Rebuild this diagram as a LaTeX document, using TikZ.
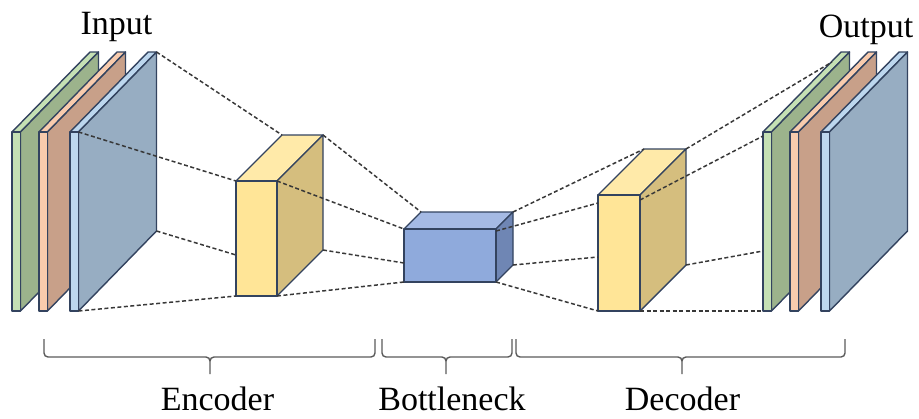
\documentclass[tikz,border=0pt]{standalone}
\usepackage{fontspec}
\setmainfont{Liberation Serif}

% Face colours: <prefix>F front, <prefix>T top, <prefix>S side
\definecolor{edge}{HTML}{33435F}
\definecolor{gF}{HTML}{C5E0B4}\definecolor{gT}{HTML}{C5E0B4}\definecolor{gS}{HTML}{9CB38C}
\definecolor{oF}{HTML}{F8CBAD}\definecolor{oT}{HTML}{F8CBAD}\definecolor{oS}{HTML}{C8A089}
\definecolor{bF}{HTML}{BDD7EE}\definecolor{bT}{HTML}{BDD7EE}\definecolor{bS}{HTML}{97ADC2}
\definecolor{yF}{HTML}{FFE597}\definecolor{yT}{HTML}{FFEAA9}\definecolor{yS}{HTML}{D5BE7E}
\definecolor{nF}{HTML}{8FAADC}\definecolor{nT}{HTML}{A5BAE4}\definecolor{nS}{HTML}{6F86B4}
\definecolor{dashcol}{HTML}{383838}
\definecolor{bracecol}{HTML}{5A5A5A}

% \drawblock{name}{x1}{y1}{x2}{y2}{dx}{dy}{colour prefix}
% front face (x1,y1)-(x2,y2), back face shifted by (dx, up dy)
\newcommand{\drawblock}[8]{%
  \coordinate (#1-ftl) at (#2,#3);
  \coordinate (#1-ftr) at (#4,#3);
  \coordinate (#1-fbl) at (#2,#5);
  \coordinate (#1-fbr) at (#4,#5);
  \coordinate (#1-btl) at ({#2+#6},{#3-#7});
  \coordinate (#1-btr) at ({#4+#6},{#3-#7});
  \coordinate (#1-bbr) at ({#4+#6},{#5-#7});
  \filldraw[face, fill=#8T] (#1-ftl) -- (#1-btl) -- (#1-btr) -- (#1-ftr) -- cycle;
  \filldraw[face, fill=#8S] (#1-ftr) -- (#1-btr) -- (#1-bbr) -- (#1-fbr) -- cycle;
  \filldraw[face, fill=#8F] (#1-ftl) rectangle (#1-fbr);
}

% curly brace under a group: left x, right x, tip x
\newcommand{\groupbrace}[3]{%
  \draw[bracestyle] (#1,339) -- (#1,353) to[out=-90,in=180] ({#1+4},357)
    -- ({#3-4},357) to[out=0,in=90] (#3,361) -- (#3,374);
  \draw[bracestyle] (#3,361) to[out=90,in=180] ({#3+4},357)
    -- ({#2-4},357) to[out=0,in=-90] (#2,353) -- (#2,339);
}

\tikzset{
  face/.style={draw=edge, line width=1.4pt, line join=round},
  link/.style={draw=dashcol, line width=1.5pt, dash pattern=on 4pt off 2.5pt},
  bracestyle/.style={draw=bracecol, line width=1.4pt},
  label/.style={font=\fontsize{34}{40}\selectfont, anchor=base, inner sep=0pt}
}

\begin{document}
\begin{tikzpicture}[x=1pt, y=-1pt]
\useasboundingbox (0,0) rectangle (919,418);

% input channels
\drawblock{inG}{12}{132}{20.5}{311}{78}{80}{g}
\drawblock{inO}{39}{132}{47.5}{311}{78}{80}{o}
\drawblock{inB}{70}{132}{78.5}{311}{78}{80}{b}

% encoder, bottleneck, decoder blocks
\drawblock{enc}{236}{181}{277}{296}{46}{46}{y}
\drawblock{bn}{404}{229}{496}{282}{17}{17}{n}
\drawblock{dec}{598}{195}{640}{311}{46}{46}{y}

% output channels
\drawblock{outG}{763}{132}{771.5}{311}{78}{80}{g}
\drawblock{outO}{790}{132}{798.5}{311}{78}{80}{o}
\drawblock{outB}{821}{132}{829.5}{311}{78}{80}{b}

% attachment points lying on block edges
\coordinate (encL) at (236,255);
\coordinate (bnL) at (404,263);
\coordinate (bnR) at (496,231);
\coordinate (decL1) at (598,203);
\coordinate (decL2) at (598,257);
\coordinate (decR) at (640,200);
\coordinate (outT) at (832,62);
\coordinate (outL1) at (763,136);
\coordinate (outL2) at (763,251);

% projection lines
\draw[link] (inB-btr) -- (enc-btl);
\draw[link] (inB-ftr) -- (enc-ftl);
\draw[link] (inB-bbr) -- (encL);
\draw[link] (inB-fbr) -- (enc-fbl);

\draw[link] (enc-btr) -- (bn-btl);
\draw[link] (enc-ftr) -- (bn-ftl);
\draw[link] (enc-bbr) -- (bnL);
\draw[link] (enc-fbr) -- (bn-fbl);

\draw[link] (bn-btr) -- (dec-btl);
\draw[link] (bnR) -- (decL1);
\draw[link] (bn-bbr) -- (decL2);
\draw[link] (bn-fbr) -- (dec-fbl);

\draw[link] (dec-btr) -- (outT);
\draw[link] (decR) -- (outL1);
\draw[link] (dec-bbr) -- (outL2);
\draw[link] (dec-fbr) -- (outG-fbl);

% titles
\node[label] (inLabel) at (116.5,34) {Input};
\node[label] (outLabel) at (866,37) {Output};

% group braces and names
\groupbrace{44}{375}{210}
\groupbrace{382}{512}{446}
\groupbrace{516}{845}{682}
\node[label] (encLabel) at (217.5,410) {Encoder};
\node[label] (bnLabel) at (452,410) {Bottleneck};
\node[label] (decLabel) at (682.5,410) {Decoder};
\end{tikzpicture}
\end{document}
